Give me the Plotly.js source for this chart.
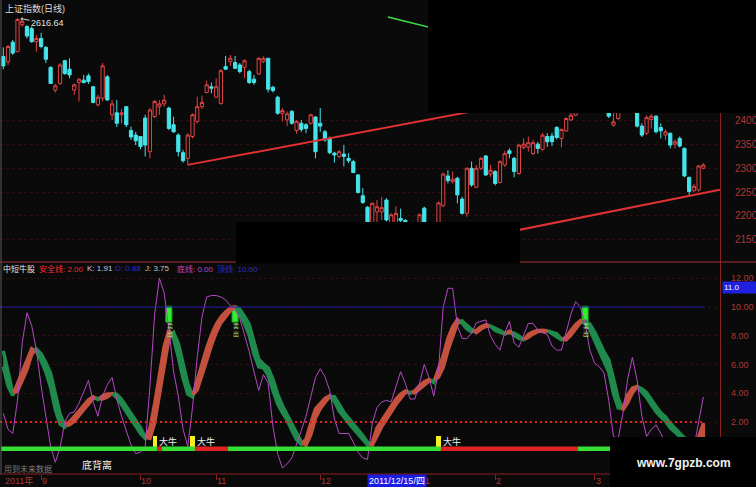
<!DOCTYPE html>
<html>
<head>
<meta charset="utf-8">
<script src="https://cdn.plot.ly/plotly-3.0.1.min.js"></script>
<style>
html,body{margin:0;padding:0;background:#0a0a0a;overflow:hidden}
#chart{width:756px;height:487px}
</style>
</head>
<body>
<div id="chart"></div>
<script>
// Daily candles of the Shanghai Composite, Aug 2011 - Mar 2012 (one entry per trading day)
const openP = [2536,2525,2566,2546,2603,2599,2595,2567,2574,2555,
  2513,2465,2479,2527,2509,2465,2481,2486,2495,2472,
  2434,2448,2493,2413,2417,2413,2430,2380,2370,2367,
  2406,2335,2409,2430,2436,2427,2392,2370,2333,2321,
  2367,2399,2430,2460,2472,2450,2437,2515,2525,2523,
  2518,2513,2504,2488,2499,2525,2532,2471,2450,2416,
  2402,2420,2380,2395,2392,2395,2408,2395,2377,2363,
  2332,2325,2330,2321,2314,2286,2242,2218,2168,2208,
  2208,2233,2185,2180,2194,2190,2172,2162,2155,2216,
  2160,2148,2172,2221,2284,2272,2279,2235,2205,2300,
  2260,2300,2326,2288,2293,2270,2307,2337,2321,2289,
  2344,2345,2331,2351,2340,2367,2368,2386,2363,2379,
  2402,2412,2422,2445,2432,2452,2468,2446,2428,2391,
  2405,2432,2425,2440,2432,2389,2374,2403,2410,2386,
  2370,2374,2351,2363,2342,2281,2253,2254,2300];
const highP = [2555,2560,2571,2616.64,2612,2602,2599,2581,2586,2558,
  2515,2478,2522,2529,2532,2479,2490,2497,2500,2474,
  2455,2522,2497,2444,2444,2425,2431,2388,2377,2368,
  2413,2427,2444,2444,2455,2430,2409,2374,2339,2374,
  2416,2451,2453,2485,2481,2490,2509,2537,2539,2537,
  2522,2530,2508,2497,2534,2536,2533,2474,2453,2427,
  2420,2423,2402,2402,2395,2415,2410,2427,2381,2367,
  2335,2339,2349,2332,2318,2288,2258,2220,2228,2233,
  2240,2237,2205,2220,2215,2193,2178,2170,2205,2219,
  2170,2178,2230,2291,2296,2293,2282,2240,2302,2314,
  2307,2324,2328,2307,2296,2317,2337,2342,2324,2352,
  2363,2367,2360,2356,2375,2374,2375,2389,2384,2407,
  2417,2428,2448,2452,2462,2478,2472,2450,2432,2417,
  2430,2440,2445,2442,2436,2395,2412,2414,2412,2395,
  2382,2375,2361,2367,2344,2282,2267,2307,2311];
const lowP = [2509,2518,2539,2545,2598,2574,2565,2546,2553,2522,
  2478,2460,2476,2497,2490,2455,2441,2479,2478,2437,
  2430,2441,2443,2402,2387,2395,2387,2360,2349,2340,
  2325,2321,2406,2413,2430,2381,2375,2325,2312,2307.2,
  2363,2395,2425,2458,2458,2448,2434,2508,2516,2509,
  2500,2490,2478,2476,2497,2522,2460,2460,2413,2399,
  2389,2392,2373,2377,2374,2392,2321,2377,2356,2330,
  2312,2321,2304,2311,2290,2247,2225,2165,2160,2170,
  2191,2188,2175,2172,2178,2165,2150,2142,2150,2150,
  2132,2140,2168,2218,2268,2268,2226,2202,2198,2261,
  2258,2296,2284,2282,2264,2268,2303,2321,2281,2286,
  2340,2335,2328,2331,2337,2345,2347,2361,2344,2377,
  2400,2410,2418,2425,2428,2448,2440,2420,2406,2388,
  2402,2420,2420,2420,2386,2366,2370,2384,2374,2363,
  2360,2342,2342,2344,2281,2244,2249,2251,2298];
const closeP = [2516,2557,2543,2614,2610,2579,2567,2574,2557,2530,
  2479,2474,2518,2500,2497,2476,2488,2481,2483,2439,
  2450,2516,2444,2436,2395,2417,2392,2366,2358,2346,
  2349,2423,2441,2436,2444,2384,2377,2335,2316,2370,
  2413,2430,2439,2476,2469,2472,2506,2509,2532,2511,
  2504,2527,2481,2481,2532,2532,2467,2464,2416,2422,
  2415,2395,2399,2382,2384,2413,2335,2389,2360,2333,
  2328,2335,2325,2316,2291,2249,2228,2170,2226,2219,
  2217,2191,2202,2205,2190,2172,2160,2150,2202,2160,
  2145,2170,2227,2288,2274,2277,2244,2205,2300,2265,
  2300,2321,2286,2296,2268,2314,2331,2331,2293,2349,
  2351,2354,2354,2342,2370,2356,2356,2365,2382,2405,
  2412,2422,2440,2430,2455,2470,2445,2425,2410,2398,
  2425,2428,2440,2425,2389,2370,2407,2410,2377,2379,
  2377,2349,2356,2347,2284,2251,2262,2305,2307];

// 中短牛股 indicator: K, D and J, one value per trading day
const kLine = [5.85,4.5,3.85,4.65,5.47,6.35,7.1,6.92,6.26,5.48,
  4.42,2.86,1.86,1.64,2.0,2.34,2.76,3.16,3.54,3.75,
  3.55,3.82,3.95,4.02,3.68,3.22,2.7,2.2,1.7,1.2,
  0.85,1.54,3.26,5.28,7.22,8.4,7.78,6.52,5.06,3.94,
  3.75,4.96,6.02,7.12,8.06,8.78,9.3,9.65,9.94,10.0,
  9.5,8.85,8.02,6.74,5.84,5.78,5.24,4.22,3.26,2.65,
  2.13,1.43,0.77,0.45,0.8,1.9,2.92,3.28,3.64,3.82,
  3.44,2.78,2.32,1.94,1.54,1.14,0.74,0.41,0.55,1.59,
  2.12,2.6,3.1,3.58,3.94,4.15,4.0,4.17,4.52,4.8,
  4.95,4.75,5.68,6.6,7.82,8.62,9.13,8.87,8.48,8.27,
  8.38,8.63,8.76,8.68,8.37,8.24,8.12,8.32,8.02,7.82,
  7.7,8.1,8.27,8.37,8.38,8.36,8.14,7.96,7.72,7.89,
  8.36,8.76,9.05,8.88,8.44,7.73,7.02,6.32,5.48,3.98,
  2.98,2.95,3.86,4.37,4.47,4.08,3.72,3.2,2.72,2.36,
  2.05,1.59,1.27,0.98,0.7,0.54,0.45,0.95,1.91];
const dLine = [6.95,5.5,4.0,4.15,4.83,5.65,6.7,7.08,6.74,6.12,
  5.38,3.94,2.54,1.76,1.8,2.06,2.44,2.84,3.26,3.65,
  3.65,3.6,3.75,3.98,3.92,3.58,3.1,2.6,2.1,1.6,
  0.95,0.86,1.94,3.72,5.78,7.8,8.22,7.48,6.14,4.66,
  3.85,4.24,5.18,6.28,7.34,8.22,8.9,9.35,9.75,9.95,
  9.85,9.35,8.78,7.66,6.36,6.02,5.76,4.98,3.94,3.15,
  2.61,1.97,1.23,0.6,0.4,1.1,2.28,2.92,3.36,3.78,
  3.76,3.22,2.68,2.26,1.86,1.46,1.06,0.59,0.4,1.01,
  1.68,2.2,2.7,3.22,3.66,4.05,4.1,4.03,4.28,4.6,
  4.85,4.88,5.12,5.8,6.98,7.98,8.87,9.03,8.72,8.43,
  8.22,8.47,8.64,8.72,8.53,8.36,8.18,8.22,8.18,7.98,
  7.72,7.9,8.13,8.29,8.32,8.34,8.26,8.14,7.78,7.71,
  8.04,8.44,8.91,9.02,8.82,8.27,7.58,6.88,6.32,5.02,
  3.62,2.85,3.34,4.03,4.45,4.32,4.04,3.6,3.08,2.64,
  2.35,1.91,1.53,1.22,0.9,0.66,0.55,0.6,0.88];
const jLine = [2.6,1.5,1.2,3.5,7.5,9.6,8.7,7.0,4.5,2.4,
  0.3,-0.8,0.2,2.0,2.6,2.7,3.3,4.1,4.9,3.4,
  2.4,3.8,4.6,5.1,3.6,2.4,1.4,0.4,-0.2,-0.1,
  0.3,4.5,9.5,12.0,11.0,8.5,5.5,3.8,1.5,0.3,
  3.0,6.5,9.3,10.7,10.8,10.8,10.7,10.5,10.1,9.8,
  9.2,8.1,6.9,5.5,4.2,5.3,4.7,1.7,-0.2,-1.2,
  -0.9,-0.5,0.4,1.4,2.4,3.8,5.1,5.7,5.15,4.2,
  2.2,1.2,1.2,1.2,0.6,-0.1,-0.5,-0.6,1.9,3.0,
  3.4,3.5,3.4,4.5,5.5,4.7,3.6,3.6,4.7,6.0,
  5.1,3.8,5.6,10.0,11.3,11.3,8.7,7.8,7.8,8.2,
  8.9,9.0,9.1,8.0,7.4,7.0,8.2,9.0,7.5,7.2,
  8.0,8.86,8.86,8.4,8.2,8.1,7.3,7.0,7.0,8.2,
  9.5,10.37,10.0,8.9,7.0,6.1,5.85,5.4,3.5,1.0,
  0.86,2.6,5.0,6.5,4.9,2.4,1.0,1.5,1.8,1.2,
  0.5,0.2,0.0,-0.3,-0.5,-0.5,0.2,2.0,3.75];

const SAFE_LINE = 2.00, TOP_LINE = 10.00, BOTTOM_LINE = 0.00;
const bigBullDays = [32, 40, 92];          // 大牛 signals
const sellDays = [35, 49, 123];            // top signals
const bullRuns = [[33, 33], [41, 47], [93, 121]]; // status bar shown red
const monthStarts = [8, 29, 45, 67, 89, 104, 125];
const monthLabels = ['9', '10', '11', '12', '1', '2', '3'];
const priceTicks = [2150, 2200, 2250, 2300, 2350, 2400];
const kdjTicks = [2, 4, 6, 8, 10, 12];
const upperTrend = {x: [39, 151.5], y: [2307.2, 2518.3]};
const lowerTrend = {x: [90, 151.5], y: [2132, 2255]};
const greenTrend = {x: [81.3, 100], y: [2619, 2573]};
const cursorDay = 77, cursorText = '2011/12/15/四';

const W = 756, H = 487;
const FONT = 'Liberation Sans, Noto Sans CJK SC, sans-serif';
const AXFONT = 'Liberation Sans Narrow, Liberation Sans, sans-serif';
const px = v => v / W;
const py = v => 1 - v / H;
const days = openP.map((_, i) => i);
const lastDay = days.length - 1;

const BG = '#0a0a0a', AXIS_RED = '#8c2020', LABEL_RED = '#b03636';
const RIB_UP = '#c4503e', RIB_DN = '#1f8a4c';

const traces = [];

// price candles
traces.push({
  type: 'candlestick', x: days, open: openP, high: highP, low: lowP, close: closeP,
  xaxis: 'x', yaxis: 'y', hoverinfo: 'skip',
  increasing: {line: {color: '#e04444', width: 1}, fillcolor: BG},
  decreasing: {line: {color: '#44e4ea', width: 1}, fillcolor: '#44e4ea'},
  whiskerwidth: 0
});

// trend lines on the price panel
[[upperTrend, '#e03232', 2], [lowerTrend, '#e03232', 2], [greenTrend, '#3ee048', 1.5]].forEach(([t, c, w]) => {
  traces.push({type: 'scatter', mode: 'lines', x: t.x, y: t.y, xaxis: 'x', yaxis: 'y',
    line: {color: c, width: w}, hoverinfo: 'skip'});
});

// K/D ribbon: red while K is above D, green while below
const pieces = [];
for (let i = 0; i < lastDay; i++) {
  const a0 = kLine[i] - dLine[i], a1 = kLine[i + 1] - dLine[i + 1];
  if (a0 * a1 < 0) {
    const t = a0 / (a0 - a1), xm = i + t, km = kLine[i] + t * (kLine[i + 1] - kLine[i]);
    pieces.push({up: a0 > 0, a: [i, kLine[i], dLine[i]], b: [xm, km, km]});
    pieces.push({up: a1 > 0, a: [xm, km, km], b: [i + 1, kLine[i + 1], dLine[i + 1]]});
  } else {
    pieces.push({up: (a0 + a1) >= 0, a: [i, kLine[i], dLine[i]], b: [i + 1, kLine[i + 1], dLine[i + 1]]});
  }
}
const runs = [];
pieces.forEach(p => {
  const last = runs[runs.length - 1];
  if (last && last.up === p.up) last.pts.push(p.b);
  else runs.push({up: p.up, pts: [p.a, p.b]});
});
runs.forEach(r => {
  const xs = r.pts.map(p => p[0]);
  const col = r.up ? RIB_UP : RIB_DN;
  traces.push({
    type: 'scatter', mode: 'lines', xaxis: 'x', yaxis: 'y2',
    x: xs.concat(xs.slice().reverse()),
    y: r.pts.map(p => p[1]).concat(r.pts.map(p => p[2]).reverse()),
    fill: 'toself', fillcolor: col, line: {color: col, width: 3.5, shape: 'linear'}, hoverinfo: 'skip'
  });
});

// J line
traces.push({type: 'scatter', mode: 'lines', x: days, y: jLine, xaxis: 'x', yaxis: 'y2',
  line: {color: '#b448c4', width: 1}, hoverinfo: 'skip'});

// top line and safety line
traces.push({type: 'scatter', mode: 'lines', x: [-0.7, lastDay + 0.3], y: [TOP_LINE, TOP_LINE],
  xaxis: 'x', yaxis: 'y2', line: {color: '#1a1aa8', width: 1}, hoverinfo: 'skip'});
traces.push({type: 'scatter', mode: 'lines', x: [-0.7, lastDay + 0.3], y: [SAFE_LINE, SAFE_LINE],
  xaxis: 'x', yaxis: 'y2', line: {color: '#e02424', width: 2, dash: '2px,3px'}, hoverinfo: 'skip'});

// status bar along the bottom line
const isBull = i => bullRuns.some(([a, b]) => i >= a && i <= b);
let s = 0;
while (s <= lastDay) {
  let e = s;
  while (e + 1 <= lastDay && isBull(e + 1) === isBull(s)) e++;
  traces.push({type: 'scatter', mode: 'lines', x: [s - 0.5, e + 0.5], y: [BOTTOM_LINE + 0.14, BOTTOM_LINE + 0.14],
    xaxis: 'x', yaxis: 'y2', line: {color: isBull(s) ? '#e02222' : '#34e034', width: 4.5}, hoverinfo: 'skip'});
  s = e + 1;
}

// 大牛 signal sticks
traces.push({type: 'bar', x: bigBullDays, y: bigBullDays.map(() => 1.0), base: bigBullDays.map(() => 0.05),
  width: 0.9, xaxis: 'x', yaxis: 'y2', marker: {color: '#f4f020', line: {width: 0}}, hoverinfo: 'skip'});
// top signal sticks
traces.push({type: 'bar', x: sellDays, y: sellDays.map(() => 1.1), base: sellDays.map(() => TOP_LINE - 1.05),
  width: 1.3, xaxis: 'x', yaxis: 'y2', marker: {color: '#2ef02e', line: {color: '#14a014', width: 1}}, hoverinfo: 'skip'});

const shapes = [
  // panel frame lines
  {type: 'line', xref: 'paper', yref: 'paper', x0: px(720.5), x1: px(720.5), y0: 0, y1: 1, line: {color: AXIS_RED, width: 1}, layer: 'above'},
  {type: 'line', xref: 'paper', yref: 'paper', x0: 0, x1: 1, y0: py(262), y1: py(262), line: {color: '#a03030', width: 1}, layer: 'above'},
  {type: 'line', xref: 'paper', yref: 'paper', x0: 0, x1: 1, y0: py(474), y1: py(474), line: {color: AXIS_RED, width: 1}, layer: 'above'},
  {type: 'line', xref: 'paper', yref: 'paper', x0: px(1), x1: px(1), y0: py(474), y1: 1, line: {color: '#5a5a5a', width: 1}, layer: 'above'},
  // blacked-out areas
  {type: 'rect', xref: 'paper', yref: 'paper', x0: px(428), x1: 1, y0: py(113), y1: 1, fillcolor: '#000', line: {width: 0}, layer: 'above'},
  {type: 'rect', xref: 'paper', yref: 'paper', x0: px(236), x1: px(520), y0: py(263.5), y1: py(222), fillcolor: '#000', line: {width: 0}, layer: 'above'},
  {type: 'rect', xref: 'paper', yref: 'paper', x0: px(610), x1: 1, y0: 0, y1: py(437), fillcolor: '#000', line: {width: 0}, layer: 'above'}
];

const ann = [];
const txt = (x, y, text, color, size, extra) => Object.assign({
  xref: 'paper', yref: 'paper', x: px(x), y: py(y), text, showarrow: false,
  xanchor: 'left', yanchor: 'middle', font: {family: FONT, size, color}
}, extra || {});

ann.push(txt(3, 9, '上证指数(日线)', '#dcdcdc', 9));
ann.push({xref: 'x', yref: 'y', x: 3, y: 2616.64, text: '2616.64', showarrow: true,
  ax: 30, ay: 5, arrowhead: 1, arrowsize: 0.7, arrowwidth: 1, arrowcolor: '#d0d0d0', standoff: 3,
  font: {family: FONT, size: 9, color: '#e0e0e0'}});

// indicator header
ann.push(txt(1, 268.5, '中短牛股', '#e6e6e6', 8));
ann.push(txt(37, 268.5, '安全线: 2.00', '#f03030', 8));
ann.push(txt(85, 268.5, 'K: 1.91', '#c8c8f0', 8));
ann.push(txt(113, 268.5, 'D: 0.88', '#2a2ad0', 8));
ann.push(txt(143, 268.5, 'J: 3.75', '#c4c4c4', 8));
ann.push(txt(175, 268.5, '底线: 0.00', '#c048c8', 8));
ann.push(txt(215, 268.5, '顶线: 10.00', '#2a2ad0', 8));

bigBullDays.forEach(d => ann.push({xref: 'x', yref: 'y2', x: d + 0.5, y: 0.62, text: '大牛', showarrow: false,
  xanchor: 'left', yanchor: 'middle', font: {family: FONT, size: 9, color: '#f0f0f0'}}));
sellDays.forEach(d => ann.push({xref: 'x', yref: 'y2', x: d + 0.2, y: TOP_LINE - 1.6, text: '卖<br>出', showarrow: false,
  xanchor: 'center', yanchor: 'middle', font: {family: FONT, size: 6, color: '#a0e0a0'}}));

ann.push(txt(80, 465, '底背离', '#f0f0f0', 10));
ann.push(txt(2, 469, '用到未来数据', '#7a7a7a', 8));

// time axis labels
ann.push(txt(3, 480.5, '2011年', LABEL_RED, 9));
monthStarts.forEach((d, k) => ann.push({xref: 'x', yref: 'paper', x: d, y: py(480.5), text: monthLabels[k],
  showarrow: false, xanchor: 'left', yanchor: 'middle', xshift: -1, font: {family: FONT, size: 9, color: LABEL_RED}}));
ann.push({xref: 'x', yref: 'paper', x: cursorDay, y: py(480.5), text: cursorText, showarrow: false,
  xanchor: 'left', yanchor: 'middle', xshift: -1, bgcolor: '#1c1ce0', borderpad: 1,
  font: {family: FONT, size: 9, color: '#ffffff'}});
ann.push(txt(722, 287.5, '11.0', '#ffffff', 8, {bgcolor: '#2020e0', width: 32, align: 'left', borderpad: 1}));
ann.push({xref: 'paper', yref: 'paper', x: px(683), y: py(463), text: '<b>www.7gpzb.com</b>', showarrow: false,
  xanchor: 'center', yanchor: 'middle', font: {family: FONT, size: 12, color: '#f2f2f2'}});

const layout = {
  width: W, height: H, margin: {l: 0, r: 0, t: 0, b: 0, pad: 0},
  paper_bgcolor: BG, plot_bgcolor: BG, showlegend: false,
  boxgap: 0.15, boxgroupgap: 0.2, bargap: 0,
  xaxis: {domain: [0, px(720)], range: [-0.698, 151.52], anchor: 'y2',
    showgrid: false, zeroline: false, showticklabels: false,
    ticks: 'outside', tickvals: monthStarts, ticklen: 5, tickcolor: AXIS_RED,
    rangeslider: {visible: false}, fixedrange: true},
  yaxis: {domain: [py(258), py(2)], range: [2110.8, 2650.8], side: 'right', anchor: 'x',
    tickvals: priceTicks, ticktext: priceTicks.map(String), ticks: '',
    ticklabelstandoff: 14, tickfont: {family: AXFONT, size: 10, color: LABEL_RED},
    showgrid: true, gridcolor: '#2c1010', griddash: 'dot', zeroline: false, fixedrange: true},
  yaxis2: {domain: [py(474), py(262)], range: [-1.617, 13.13], side: 'right', anchor: 'x',
    tickvals: kdjTicks, ticktext: kdjTicks.map(v => v.toFixed(2)), ticks: '',
    ticklabelstandoff: 10, tickfont: {family: AXFONT, size: 9, color: LABEL_RED},
    showgrid: true, gridcolor: '#2c1010', griddash: 'dot', zeroline: false, fixedrange: true},
  shapes, annotations: ann
};

Plotly.newPlot('chart', traces, layout, {staticPlot: true, displayModeBar: false});
</script>
</body>
</html>
